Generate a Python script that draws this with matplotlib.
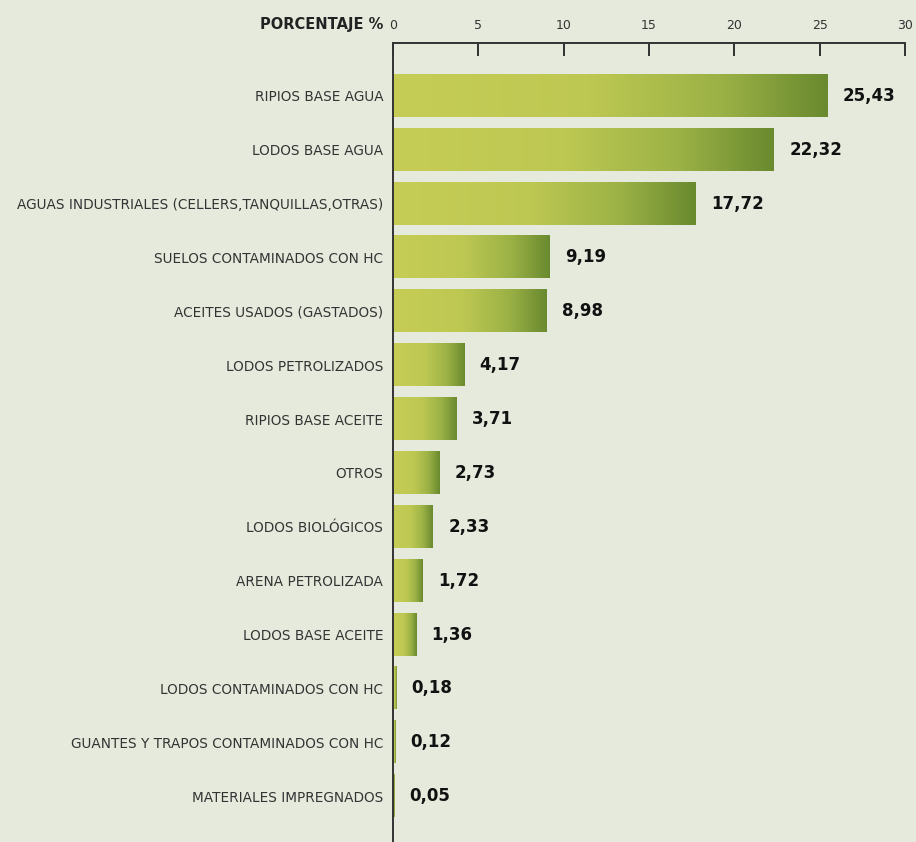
import matplotlib.pyplot as plt
import numpy as np
from matplotlib.colors import LinearSegmentedColormap

categories = ['RIPIOS BASE AGUA', 'LODOS BASE AGUA',
              'AGUAS INDUSTRIALES (CELLERS,TANQUILLAS,OTRAS)',
              'SUELOS CONTAMINADOS CON HC', 'ACEITES USADOS (GASTADOS)',
              'LODOS PETROLIZADOS', 'RIPIOS BASE ACEITE', 'OTROS',
              'LODOS BIOLÓGICOS', 'ARENA PETROLIZADA', 'LODOS BASE ACEITE',
              'LODOS CONTAMINADOS CON HC',
              'GUANTES Y TRAPOS CONTAMINADOS CON HC',
              'MATERIALES IMPREGNADOS']
values = [25.43, 22.32, 17.72, 9.19, 8.98, 4.17, 3.71, 2.73, 2.33, 1.72,
          1.36, 0.18, 0.12, 0.05]
value_labels = ['25,43', '22,32', '17,72', '9,19', '8,98', '4,17', '3,71',
                '2,73', '2,33', '1,72', '1,36', '0,18', '0,12', '0,05']
xticks = [0, 5, 10, 15, 20, 25, 30]

bg = '#e5eadc'
cmap = LinearSegmentedColormap.from_list(
    'verde', [(0, '#c6cd56'), (0.45, '#bdc852'), (0.75, '#9cb246'), (1, '#6a8a2f')])

fig = plt.figure(figsize=(9.16, 8.42), dpi=100, facecolor=bg)
ax = fig.add_axes([393 / 916, 0, 512 / 916, 1 - 43 / 842])
ax.set_facecolor(bg)

h = 0.78
grad = np.linspace(0, 1, 256).reshape(1, -1)
for i, v in enumerate(values):
    ax.imshow(grad, cmap=cmap, aspect='auto', interpolation='bilinear',
              extent=[0, max(v, 0.08), i + h / 2, i - h / 2], zorder=2)
    ax.text(v + 0.9, i, value_labels[i], va='center', ha='left',
            fontsize=12, fontweight='bold', color='#111111')

ax.set_xlim(0, 30)
ax.set_ylim(len(values) - 1 + 0.85, -0.98)

ax.set_yticks(range(len(values)))
ax.set_yticklabels(categories, fontsize=9.8, color='#333333')
ax.tick_params(axis='y', length=0, pad=7)

ax.xaxis.tick_top()
ax.set_xticks(xticks)
ax.tick_params(axis='x', direction='in', length=9.5, width=1.3, color='#222222',
               labelsize=9, labelcolor='#333333', pad=8)

for s in ['right', 'bottom']:
    ax.spines[s].set_visible(False)
for s in ['top', 'left']:
    ax.spines[s].set_color('#333333')
    ax.spines[s].set_linewidth(1.4)

fig.text(383 / 916, 1 - 25 / 842, 'PORCENTAJE %', ha='right', va='center',
         fontsize=10.5, fontweight='bold', color='#222222')

fig.savefig('out.png', dpi=100, facecolor=bg)
